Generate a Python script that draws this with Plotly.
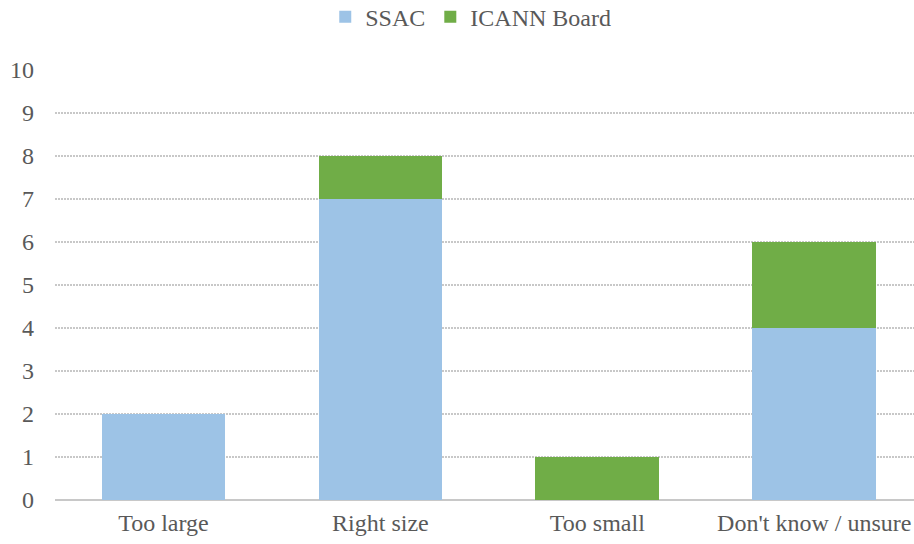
import plotly.graph_objects as go

categories = ["Too large", "Right size", "Too small", "Don't know / unsure"]
ssac = [2, 7, 0, 4]
board = [0, 1, 1, 2]
y_ticks = list(range(0, 11))

font = dict(family="Liberation Serif, Times New Roman, serif", size=24, color="#595959")

fig = go.Figure()
fig.add_trace(go.Bar(x=categories, y=ssac, name="SSAC", marker=dict(color="#9DC3E6", line=dict(width=0)), width=0.57))
fig.add_trace(go.Bar(x=categories, y=board, name="ICANN Board", marker=dict(color="#70AD47", line=dict(width=0)), width=0.57))

fig.update_layout(
    barmode="stack",
    width=914, height=544,
    margin=dict(l=55, r=0, t=70, b=44, autoexpand=False),
    paper_bgcolor="white", plot_bgcolor="white",
    font=font,
    legend=dict(orientation="h", x=0.484, xanchor="center", y=1.123, yanchor="middle",
                font=font, itemwidth=30, traceorder="normal", tracegroupgap=0),
    xaxis=dict(range=[-0.5, 3.46], showgrid=False, ticks="", showline=False, automargin=False,
               ticklabelstandoff=6, tickfont=font),
    yaxis=dict(range=[0, 10], tickvals=y_ticks, showgrid=True, gridcolor="#C8C8C8",
               griddash="2px,1px", gridwidth=2, zeroline=True, zerolinecolor="#C8C8C8",
               zerolinewidth=2, ticks="", ticklabelstandoff=20, automargin=False, tickfont=font),
)

fig.write_html("out.html", config={"displayModeBar": False},
               post_script="document.body.style.margin='0';document.body.style.overflow='hidden';")
